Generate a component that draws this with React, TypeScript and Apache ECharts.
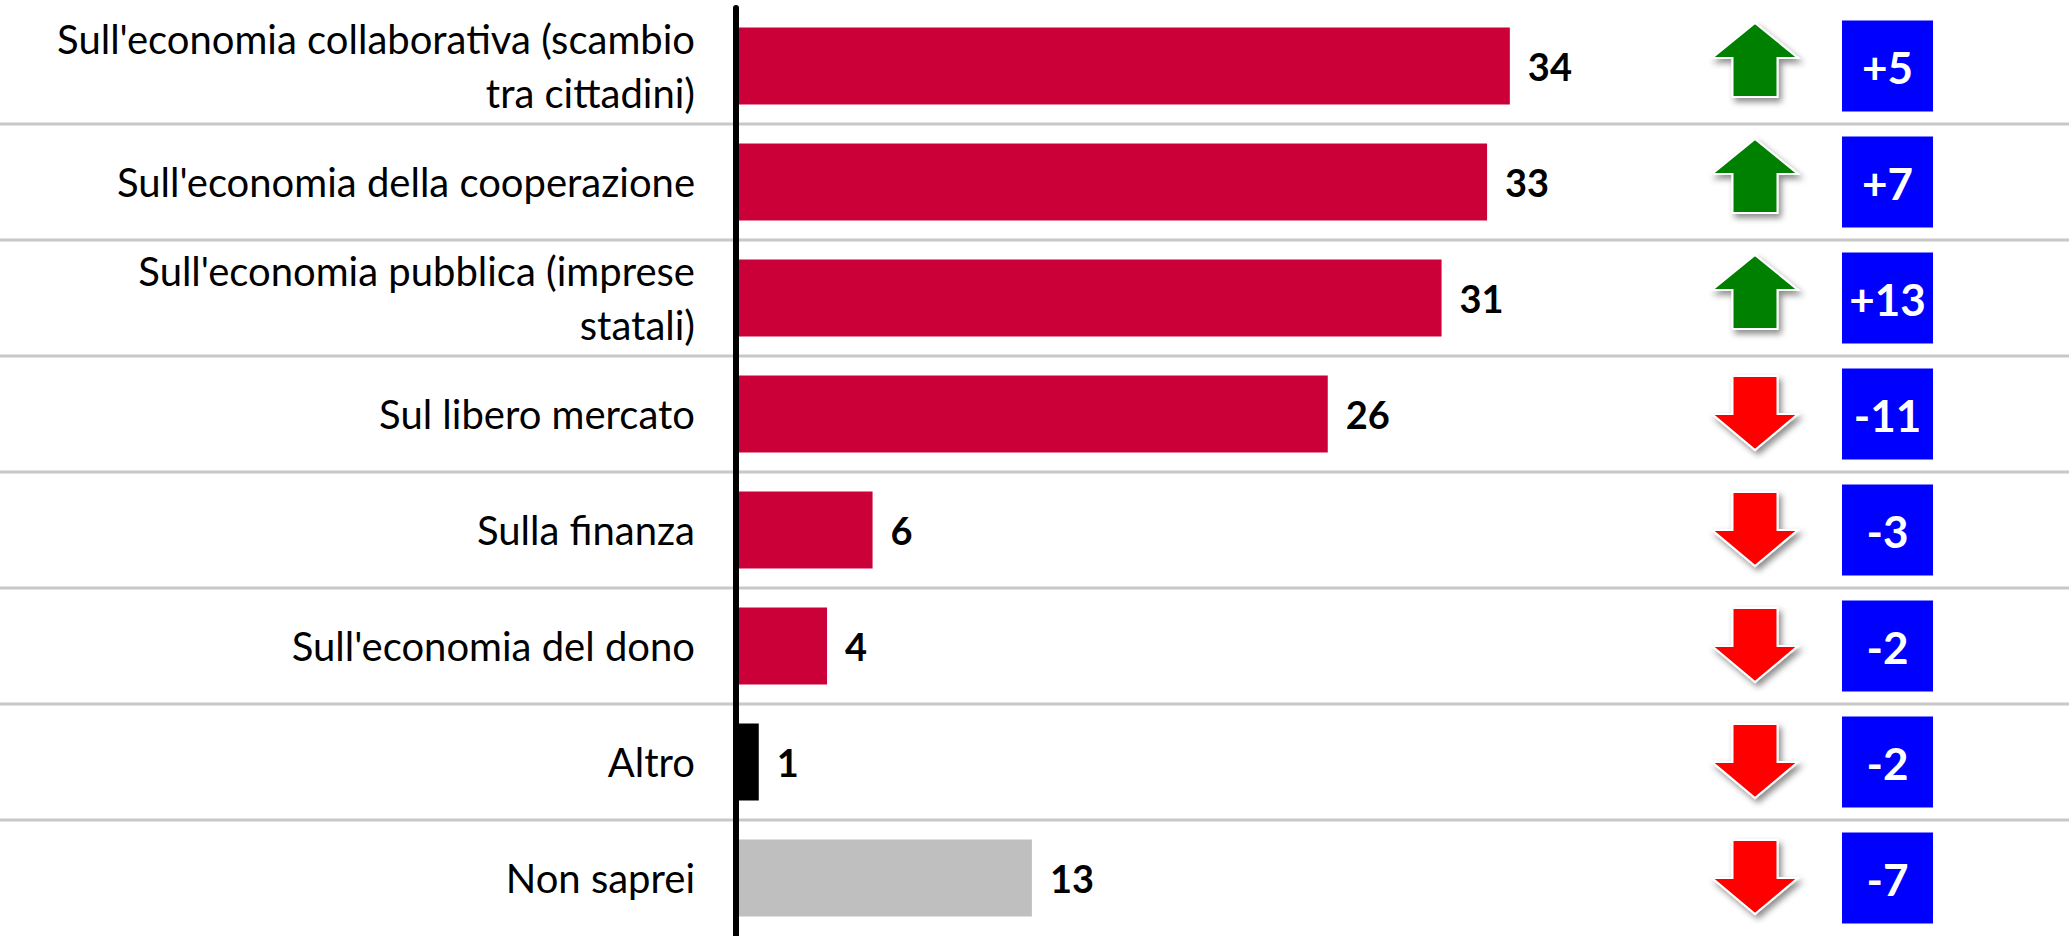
import React, { useEffect, useRef } from "react";
import * as echarts from "echarts";

const categories = [
  "Sull'economia collaborativa (scambio\ntra cittadini)",
  "Sull'economia della cooperazione",
  "Sull'economia pubblica (imprese\nstatali)",
  "Sul libero mercato",
  "Sulla finanza",
  "Sull'economia del dono",
  "Altro",
  "Non saprei",
];
const values = [34, 33, 31, 26, 6, 4, 1, 13];
const changes = [5, 7, 13, -11, -3, -2, -2, -7];
const changeLabels = ["+5", "+7", "+13", "-11", "-3", "-2", "-2", "-7"];

const barColors = [
  "#CC0038", "#CC0038", "#CC0038", "#CC0038", "#CC0038", "#CC0038", "#000000", "#BFBFBF",
];

const FONT = "Lato, 'Open Sans', sans-serif";

export default function App() {
  const ref = useRef<HTMLDivElement>(null);
  useEffect(() => {
    document.body.style.margin = "0";
    if (!ref.current) return;
    const chart = echarts.init(ref.current, undefined, { renderer: "svg" });
    const ARROW_X = 1755;
    const BOX_X = 1842;
    const BOX_SIZE = 91;
    const option: any = {
      animation: false,
      backgroundColor: "#ffffff",
      grid: { left: 736, right: 195, top: 8, bottom: 0, containLabel: false },
      xAxis: { type: "value", min: 0, max: 50, show: false },
      yAxis: {
        type: "category",
        inverse: true,
        z: 5,
        data: categories,
        axisLine: { show: true, lineStyle: { color: "#000000", width: 6 } },
        axisTick: { show: false },
        splitLine: { show: false },
        axisLabel: {
          interval: 0,
          margin: 41,
          fontSize: 40,
          lineHeight: 54,
          fontFamily: FONT,
          color: "#000000",
          align: "right",
        },
      },
      series: [
        {
          type: "bar",
          barWidth: 77,
          data: values.map((v, i) => ({ value: v, itemStyle: { color: barColors[i] } })),
          label: {
            show: true,
            position: "right",
            distance: 18,
            fontSize: 38,
            fontWeight: "bold",
            fontFamily: FONT,
            color: "#000000",
          },
        },
        {
          type: "custom",
          z: -1,
          clip: false,
          encode: { x: 0, y: 1 },
          data: categories.map((_, i) => [0, i, changes[i]]),
          renderItem: (params: any, api: any) => {
            const idx = api.value(1);
            const change = api.value(2);
            const pt = api.coord([0, idx]);
            const cy = pt[1];
            const band = api.size([0, 1])[1];
            const W = api.getWidth();
            const children: any[] = [];
            if (idx < categories.length - 1) {
              const gy = cy + band / 2;
              children.push({
                type: "line",
                shape: { x1: 0, y1: gy, x2: W, y2: gy },
                style: { stroke: "#C8C8C8", lineWidth: 3 },
              });
            }
            const cx = ARROW_X;
            const up = change > 0;
            const points = up
              ? [
                  [cx, cy - 43],
                  [cx + 43, cy - 8],
                  [cx + 22.5, cy - 8],
                  [cx + 22.5, cy + 31],
                  [cx - 22.5, cy + 31],
                  [cx - 22.5, cy - 8],
                  [cx - 43, cy - 8],
                ]
              : [
                  [cx - 22.5, cy - 38],
                  [cx + 22.5, cy - 38],
                  [cx + 22.5, cy],
                  [cx + 43, cy],
                  [cx, cy + 36],
                  [cx - 43, cy],
                  [cx - 22.5, cy],
                ];
            children.push({
              type: "polygon",
              shape: { points },
              style: {
                fill: up ? "#008000" : "#FF0000",
                stroke: "#FFFFFF",
                lineWidth: 2,
                shadowBlur: 6,
                shadowColor: "rgba(0,0,0,0.45)",
                shadowOffsetX: 3,
                shadowOffsetY: 4,
              },
            });
            children.push({
              type: "rect",
              shape: { x: BOX_X, y: cy - BOX_SIZE / 2, width: BOX_SIZE, height: BOX_SIZE },
              style: { fill: "#0000FF" },
            });
            children.push({
              type: "text",
              x: BOX_X + BOX_SIZE / 2,
              y: cy + 1,
              style: {
                text: changeLabels[idx],
                fill: "#FFFFFF",
                fontSize: 44,
                fontWeight: "bold",
                fontFamily: FONT,
                align: "center",
                verticalAlign: "middle",
              },
            });
            return { type: "group", children };
          },
        },
      ],
    };
    chart.setOption(option);
    return () => chart.dispose();
  }, []);
  return <div ref={ref} style={{ width: 2069, height: 936 }} />;
}
